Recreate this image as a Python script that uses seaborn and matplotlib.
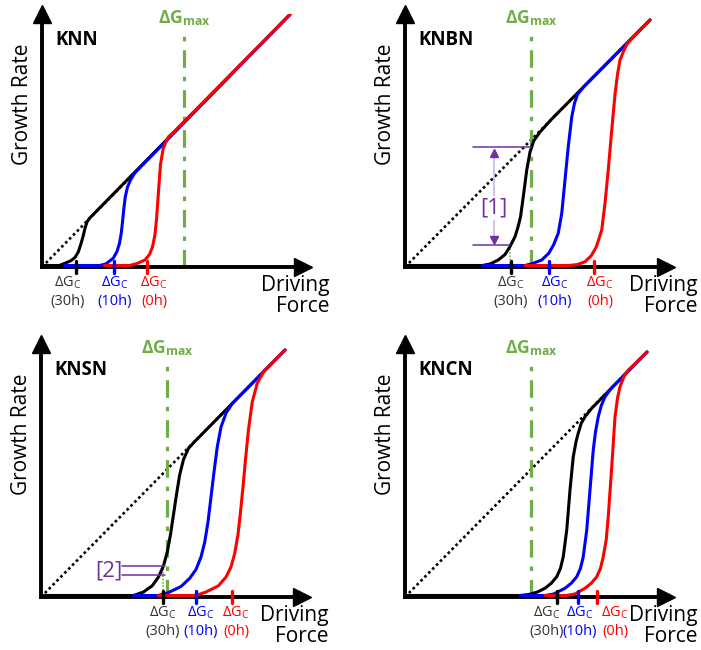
import matplotlib
matplotlib.use("Agg")
import matplotlib.pyplot as plt
import matplotlib.transforms as mtransforms
import seaborn as sns

# ---- data (x = driving force, y = growth rate, arbitrary units) ----
PANELS = ["KNN", "KNBN", "KNSN", "KNCN"]
TIMES = ["(30h)", "(10h)", "(0h)"]
COLORS = ["black", "#0000FF", "#FF0000"]

# KNN
knn_30h_x = [0, 0.7, 0.92, 1.15, 1.32, 1.45, 1.55, 1.65, 1.72, 1.8, 1.9, 9.92]
knn_30h_y = [0.06, 0.06, 0.15, 0.25, 0.38, 0.6, 0.9, 1.25, 1.55, 1.8, 1.95, 10.1]
knn_10h_x = [0.9, 2.3, 2.55, 2.85, 3.0, 3.1, 3.17, 3.22, 3.27, 3.33, 3.42, 3.55, 3.72, 9.92]
knn_10h_y = [0.06, 0.06, 0.12, 0.35, 0.62, 0.95, 1.35, 1.8, 2.3, 2.8, 3.2, 3.5, 3.77, 10.1]
knn_0h_x = [2.5, 3.5, 3.8, 4.12, 4.3, 4.42, 4.52, 4.58, 4.63, 4.68, 4.74, 4.85, 5.05, 5.32, 9.92]
knn_0h_y = [0.06, 0.06, 0.14, 0.28, 0.5, 0.8, 1.3, 1.9, 2.6, 3.3, 4.1, 4.75, 5.2, 5.45, 10.1]

# KNBN
knbn_30h_x = [0, 3.1, 3.4, 3.73, 4.0, 4.2, 4.4, 4.52, 4.62, 4.73, 4.87, 5.0, 5.15, 5.4, 5.87, 9.8]
knbn_30h_y = [0.06, 0.06, 0.12, 0.28, 0.5, 0.82, 1.21, 1.6, 2.0, 2.8, 3.88, 4.6, 5.05, 5.4, 5.92, 9.88]
knbn_10h_x = [3.1, 4.8, 5.1, 5.47, 5.75, 5.95, 6.13, 6.27, 6.4, 6.53, 6.67, 6.78, 6.9, 7.13, 9.8]
knbn_10h_y = [0.06, 0.06, 0.14, 0.28, 0.55, 0.9, 1.35, 2.15, 3.48, 4.81, 6.0, 6.55, 6.9, 7.19, 9.88]
knbn_0h_x = [4.8, 6.55, 6.9, 7.2, 7.45, 7.65, 7.87, 8.0, 8.13, 8.27, 8.4, 8.5, 8.6, 8.75, 8.87, 9.07, 9.8]
knbn_0h_y = [0.06, 0.06, 0.1, 0.21, 0.45, 0.8, 1.48, 2.55, 3.88, 5.48, 6.9, 7.7, 8.28, 8.65, 8.9, 9.14, 9.88]

# KNSN
knsn_30h_x = [0, 3.7, 4.1, 4.45, 4.7, 4.9, 5.05, 5.18, 5.3, 5.42, 5.55, 5.7, 5.9, 6.15, 9.76]
knsn_30h_y = [0.06, 0.06, 0.2, 0.45, 0.8, 1.25, 1.8, 2.5, 3.3, 4.1, 4.9, 5.5, 5.95, 6.22, 9.88]
knsn_10h_x = [3.7, 4.7, 5.1, 5.6, 5.95, 6.2, 6.4, 6.55, 6.68, 6.8, 6.92, 7.05, 7.2, 7.4, 7.65, 9.76]
knsn_10h_y = [0.06, 0.06, 0.18, 0.42, 0.75, 1.1, 1.6, 2.2, 3.0, 4.0, 5.0, 6.0, 6.8, 7.35, 7.74, 9.88]
knsn_0h_x = [4.7, 6.2, 6.6, 7.1, 7.4, 7.6, 7.75, 7.88, 7.98, 8.08, 8.18, 8.3, 8.45, 8.65, 8.9, 9.1, 9.76]
knsn_0h_y = [0.06, 0.06, 0.2, 0.45, 0.8, 1.2, 1.75, 2.5, 3.4, 4.4, 5.5, 6.7, 7.8, 8.55, 9.0, 9.21, 9.88]

# KNCN
kncn_30h_x = [0, 4.6, 4.95, 5.3, 5.6, 5.85, 6.07, 6.22, 6.33, 6.47, 6.6, 6.73, 6.85, 6.93, 7.05, 7.2, 7.47, 9.68]
kncn_30h_y = [0.06, 0.06, 0.1, 0.2, 0.35, 0.55, 0.81, 1.15, 1.61, 2.68, 4.28, 5.61, 6.25, 6.55, 6.95, 7.21, 7.55, 9.8]
kncn_10h_x = [4.6, 5.6, 5.95, 6.4, 6.65, 6.87, 7.02, 7.13, 7.27, 7.4, 7.53, 7.62, 7.73, 7.85, 8.0, 8.27, 9.68]
kncn_10h_y = [0.06, 0.06, 0.12, 0.35, 0.55, 0.81, 1.15, 1.61, 2.68, 4.28, 5.88, 6.6, 7.21, 7.65, 8.01, 8.37, 9.8]
kncn_0h_x = [5.6, 6.45, 6.8, 7.2, 7.45, 7.67, 7.82, 7.93, 8.05, 8.13, 8.27, 8.4, 8.5, 8.6, 8.75, 8.93, 9.2, 9.68]
kncn_0h_y = [0.06, 0.06, 0.12, 0.35, 0.55, 0.81, 1.15, 1.61, 2.3, 3.21, 5.21, 7.21, 7.95, 8.41, 8.8, 9.08, 9.33, 9.8]

# ideal (linear) growth: dotted diagonal end points
ideal_end_x = [9.92, 9.8, 9.76, 9.68]
ideal_end_y = [10.1, 9.88, 9.88, 9.8]

# critical driving forces (30h, 10h, 0h) and max driving force
dgc = [[1.36, 2.88, 4.2], [4.24, 5.76, 7.56], [4.88, 6.2, 7.64], [6.08, 6.92, 7.68]]
dgmax = [5.68, 5.04, 5.04, 5.04]

# annotations [1] (KNBN) and [2] (KNSN)
ann1_levels = [4.8, 0.88]
ann1_xend = [5.04, 4.2]
ann2_levels = [1.24, 0.88]
ann2_xend = [4.96, 4.96]

curves = {
    "KNN": [(knn_30h_x, knn_30h_y), (knn_10h_x, knn_10h_y), (knn_0h_x, knn_0h_y)],
    "KNBN": [(knbn_30h_x, knbn_30h_y), (knbn_10h_x, knbn_10h_y), (knbn_0h_x, knbn_0h_y)],
    "KNSN": [(knsn_30h_x, knsn_30h_y), (knsn_10h_x, knsn_10h_y), (knsn_0h_x, knsn_0h_y)],
    "KNCN": [(kncn_30h_x, kncn_30h_y), (kncn_10h_x, kncn_10h_y), (kncn_0h_x, kncn_0h_y)],
}

# label x-positions under the axis
label_x = [[1.04, 2.92, 4.48], [4.24, 6.0, 7.8], [4.88, 6.4, 7.8], [5.68, 7.0, 8.4]]

GREEN = "#70AD47"
PURPLE = "#7030A0"
LABEL_GREY = "#333333"

sns.set_theme(style="white")
plt.rcParams["font.family"] = ["Open Sans", "DejaVu Sans"]
plt.rcParams["mathtext.fontset"] = "custom"
plt.rcParams["mathtext.rm"] = "Open Sans"
plt.rcParams["mathtext.bf"] = "Open Sans:bold"
plt.rcParams["mathtext.it"] = "Open Sans:italic"

fig = plt.figure(figsize=(7.01, 6.5), dpi=100)

W, H = 701.0, 650.0
PX = 25.0  # pixels per data unit
ax_w, ax_h = 261, 253
origins = [(42, 267), (405, 267), (41, 597), (405, 597)]


def draw_panel(ax, i, name):
    ax.set_xlim(0, ax_w / PX)
    ax.set_ylim(0, ax_h / PX)
    ax.set_xticks([])
    ax.set_yticks([])
    for side in ["top", "right"]:
        ax.spines[side].set_visible(False)
    for side in ["left", "bottom"]:
        ax.spines[side].set_color("black")
        ax.spines[side].set_linewidth(2.8)
        ax.spines[side].set_zorder(2.5)
    # arrow heads
    ax.plot(1, 0, ">", color="black", markersize=13, transform=ax.transAxes, clip_on=False, zorder=6)
    ax.plot(0, 1, "^", color="black", markersize=13, transform=ax.transAxes, clip_on=False, zorder=6)

    # ideal linear growth
    ax.plot([0, ideal_end_x[i]], [0, ideal_end_y[i]], color="black", lw=1.9,
            linestyle=(0, (1, 1.1)), zorder=2)

    # max driving force
    ax.plot([dgmax[i], dgmax[i]], [0, 9.4], color=GREEN, lw=2.3,
            linestyle=(0, (5.5, 2.8, 1.4, 2.8)), zorder=2.2)
    ax.text(dgmax[i], 9.55, r"$\mathbf{ΔG}_\mathbf{max}$", color=GREEN, fontsize=12.5,
            ha="center", va="bottom")

    # growth-rate curves
    for (cx, cy), col in zip(curves[name], COLORS):
        sns.lineplot(x=cx, y=cy, ax=ax, color=col, lw=2.2, sort=False,
                     estimator=None, zorder=3, solid_joinstyle="round",
                     solid_capstyle="round")

    # critical driving force ticks and labels
    trans = mtransforms.blended_transform_factory(ax.transData, ax.transAxes)
    for xc, xl, col, t in zip(dgc[i], label_x[i], COLORS, TIMES):
        ax.plot([xc, xc], [-0.24, 0.26], color=col, lw=2.4, clip_on=False, zorder=4)
        tcol = LABEL_GREY if col == "black" else col
        ax.text(xl, -0.062, r"$\mathrm{ΔG}_\mathrm{C}$", color=tcol, fontsize=10.5,
                ha="center", va="center", transform=trans)
        ax.text(xl, -0.135, t, color=tcol, fontsize=10.5, ha="center", va="center",
                transform=trans)

    ax.text(0.05, 0.897, name, fontsize=13.5, fontweight="bold", color="black",
            ha="left", va="center", transform=ax.transAxes)
    ax.text(-0.075, 0.645, "Growth Rate", fontsize=15, rotation=90, color="black",
            ha="center", va="center", transform=ax.transAxes)
    xr = 1.103 if i % 2 == 0 else 1.12
    ax.text(xr, -0.03, "Driving\nForce", fontsize=15, color="black", ha="right",
            va="top", multialignment="right", linespacing=1.05, transform=ax.transAxes)


axes = []
for i, name in enumerate(PANELS):
    ox, oy = origins[i]
    ax = fig.add_axes([ox / W, (H - oy) / H, ax_w / W, ax_h / H])
    ax.patch.set_alpha(0)
    draw_panel(ax, i, name)
    axes.append(ax)

# annotation [1] on KNBN
ax = axes[1]
for lev, xe in zip(ann1_levels, ann1_xend):
    ax.plot([2.72, xe], [lev, lev], color=PURPLE, lw=1.1, zorder=4)
ax.plot([3.56, 3.56], [ann1_levels[1] + 0.3, ann1_levels[0] - 0.3], color="#C9B2DE", lw=1.1, zorder=4)
ax.plot(3.56, ann1_levels[0] - 0.22, "^", color=PURPLE, markersize=6, zorder=5)
ax.plot(3.56, ann1_levels[1] + 0.22, "v", color=PURPLE, markersize=6, zorder=5)
ax.text(3.56, 2.36, "[1]", color=PURPLE, fontsize=16, ha="center", va="center", zorder=6,
        bbox=dict(facecolor="white", edgecolor="none", pad=1))
ax.plot([ann1_xend[1], ann1_xend[1]], [0, ann1_levels[1]], color=GREEN, lw=1.2,
        linestyle=(0, (1, 1)), zorder=2.6)

# annotation [2] on KNSN
ax = axes[2]
for lev, xe in zip(ann2_levels, ann2_xend):
    ax.plot([3.24, xe], [lev, lev], color=PURPLE, lw=1.1, zorder=4)
ax.text(2.72, 1.06, "[2]", color=PURPLE, fontsize=16, ha="center", va="center", zorder=6)
ax.plot([4.88, 4.88], [0, ann2_levels[0]], color=GREEN, lw=1.2,
        linestyle=(0, (1, 1)), zorder=2.6)

fig.savefig("out.png", dpi=100, facecolor="white")
